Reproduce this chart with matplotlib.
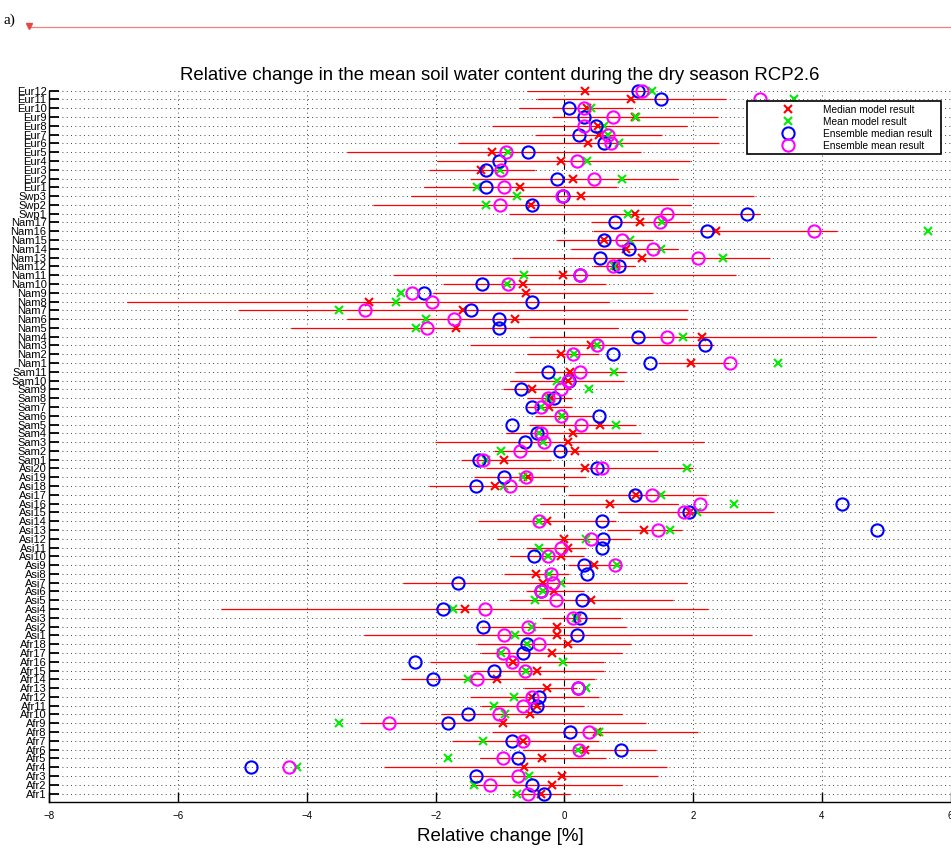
import matplotlib
matplotlib.use("Agg")
import matplotlib.pyplot as plt
from matplotlib.lines import Line2D
import numpy as np

plt.rcParams["font.family"] = ["Liberation Sans", "DejaVu Sans"]
plt.rcParams["lines.scale_dashes"] = False
plt.rcParams["axes.unicode_minus"] = True

# ---------------------------------------------------------------- data
# Regions listed bottom-to-top; for every region: model spread (lo, hi),
# median / mean of the model results and the ensemble median / mean.
regions = ["Afr", "Asi", "Sam", "Nam", "Swp", "Eur"]
region_sizes = [18, 20, 11, 17, 3, 12]

afr_lo = [-0.81, -1.46, -1.44, -2.80, -1.31, -0.65, -1.75, -1.12, -3.17, -1.91, -1.30, -1.47, -0.63, -2.53, -1.44, -2.09, -1.30, -1.36]
afr_hi = [0.09, 0.90, 1.46, 1.60, 0.64, 1.42, 0.54, 2.07, 1.27, 0.89, 0.30, 0.53, 0.20, 0.48, 0.62, 0.61, 0.90, 1.04]
afr_med = [-0.36, -0.20, -0.04, -0.62, -0.34, 0.32, -0.65, 0.50, -0.96, -0.54, -0.42, -0.51, -0.27, -1.04, -0.43, -0.80, -0.20, 0.05]
afr_mean = [-0.73, -1.41, -0.55, -4.15, -1.80, 0.21, -1.26, 0.53, -3.50, -0.93, -1.10, -0.79, 0.33, -1.49, -0.60, -0.02, -0.99, -0.58]
afr_emed = [-0.31, -0.50, -1.37, -4.86, -0.72, 0.88, -0.81, 0.09, -1.80, -1.49, -0.43, -0.39, 0.21, -2.04, -1.10, -2.32, -0.65, -0.58]
afr_emean = [-0.56, -1.15, -0.72, -4.28, -0.96, 0.23, -0.65, 0.38, -2.73, -1.02, -0.65, -0.51, 0.21, -1.36, -0.61, -0.82, -0.96, -0.39]

asi_lo = [-3.12, -1.30, -0.34, -5.34, -0.86, -0.60, -2.50, -0.94, 0.05, -0.84, -0.59, -1.05, 0.66, -1.34, 0.84, -0.38, 0.05, -2.11, -1.41, -1.22]
asi_hi = [2.92, 0.95, 0.88, 2.23, 1.69, 0.31, 1.91, 0.07, 0.88, 0.31, 0.33, 1.04, 1.82, 0.80, 3.26, 1.76, 2.22, 0.05, 0.33, 1.99]
asi_med = [-0.12, -0.11, 0.19, -1.54, 0.42, -0.16, -0.33, -0.44, 0.46, -0.05, 0.06, -0.01, 1.24, -0.27, 1.95, 0.71, 1.12, -1.07, -0.56, 0.32]
asi_mean = [-0.77, -0.50, 0.18, -1.73, -0.45, -0.33, -0.05, -0.24, 0.82, -0.26, -0.40, 0.33, 1.64, -0.39, 2.06, 2.64, 1.50, -0.94, -0.64, 1.90]
asi_emed = [0.20, -1.26, 0.24, -1.89, 0.27, -0.37, -1.65, 0.35, 0.30, -0.47, 0.58, 0.60, 4.85, 0.58, 1.94, 4.31, 1.10, -1.38, -0.94, 0.51]
asi_emean = [-0.94, -0.56, 0.13, -1.24, -0.13, -0.36, -0.17, -0.21, 0.78, -0.26, -0.06, 0.42, 1.46, -0.40, 1.86, 2.10, 1.36, -0.84, -0.59, 0.58]

sam_lo = [-1.61, -1.10, -2.01, -0.90, -0.55, -0.45, -0.58, -0.58, -0.96, -0.84, -0.76]
sam_hi = [-0.21, 1.46, 2.17, 1.19, 1.11, 0.46, 0.12, 0.12, 0.10, 0.93, 0.96]
sam_med = [-0.94, 0.17, 0.06, 0.14, 0.55, -0.03, -0.24, -0.21, -0.50, 0.06, 0.09]
sam_mean = [-1.22, -0.99, -0.33, -0.39, 0.80, -0.03, -0.36, -0.25, 0.38, -0.12, 0.77]
sam_emed = [-1.33, -0.07, -0.61, -0.43, -0.81, 0.54, -0.50, -0.16, -0.68, 0.07, -0.25]
sam_emean = [-1.27, -0.69, -0.31, -0.37, 0.26, -0.05, -0.36, -0.26, -0.05, 0.05, 0.25]

nam_lo = [1.45, -0.58, -1.47, -0.55, -4.24, -3.38, -5.07, -6.79, -2.04, -1.89, -2.66, 0.45, -0.81, 0.11, -0.13, 0.45, 0.41]
nam_hi = [2.56, 0.54, 2.33, 4.84, 0.84, 1.91, 1.92, 0.69, 1.37, 0.64, 2.66, 1.10, 3.19, 1.76, 1.38, 4.23, 1.95]
nam_med = [1.97, -0.05, 0.41, 2.13, -1.68, -0.77, -1.57, -3.03, -0.59, -0.65, -0.02, 0.80, 1.20, 0.95, 0.62, 2.35, 1.18]
nam_mean = [3.32, 0.15, 0.50, 1.84, -2.31, -2.15, -3.50, -2.61, -2.53, -0.89, -0.62, 0.77, 2.47, 1.50, 1.02, 5.64, 1.51]
nam_emed = [1.33, 0.75, 2.18, 1.15, -1.02, -1.01, -1.45, -0.50, -2.18, -1.28, 0.24, 0.85, 0.56, 1.01, 0.61, 2.21, 0.78]
nam_emean = [2.57, 0.13, 0.51, 1.59, -2.13, -1.71, -3.10, -2.05, -2.37, -0.88, 0.25, 0.75, 2.08, 1.38, 0.89, 3.87, 1.48]

swp_lo = [-0.86, -2.97, -2.39]
swp_hi = [3.04, 1.96, 2.94]
swp_med = [1.09, -0.52, 0.26]
swp_mean = [0.99, -1.22, -0.73]
swp_emed = [2.84, -0.51, -0.02]
swp_emean = [1.59, -1.00, -0.03]

eur_lo = [-2.18, -1.47, -2.11, -1.98, -3.37, -1.65, -0.45, -1.13, -0.19, -0.70, -0.42, -0.58]
eur_hi = [0.81, 1.76, -0.45, 1.95, 1.19, 2.40, 1.52, 1.91, 2.38, 1.06, 2.51, 1.30]
eur_med = [-0.69, 0.13, -1.30, -0.05, -1.13, 0.36, 0.54, 0.52, 1.10, 0.35, 1.03, 0.32]
eur_mean = [-1.35, 0.89, -1.00, 0.35, -0.88, 0.85, 0.67, 0.62, 1.11, 0.42, 3.56, 1.36]
eur_emed = [-1.21, -0.11, -1.22, -1.02, -0.56, 0.61, 0.22, 0.49, 0.31, 0.07, 1.50, 1.15]
eur_emean = [-0.94, 0.46, -0.99, 0.19, -0.91, 0.73, 0.67, 0.31, 0.76, 0.31, 3.04, 1.20]

x_ticks = [-8, -6, -4, -2, 0, 2, 4, 6]
title = "Relative change in the mean soil water content during the dry season RCP2.6"
x_label = "Relative change [%]"
legend_labels = ["Median model result", "Mean model result",
                 "Ensemble median result", "Ensemble mean result"]

# ---------------------------------------------------------------- assemble
labels = [f"{r}{k}" for r, n in zip(regions, region_sizes) for k in range(1, n + 1)]
lo = np.array(afr_lo + asi_lo + sam_lo + nam_lo + swp_lo + eur_lo)
hi = np.array(afr_hi + asi_hi + sam_hi + nam_hi + swp_hi + eur_hi)
med = np.array(afr_med + asi_med + sam_med + nam_med + swp_med + eur_med)
mean = np.array(afr_mean + asi_mean + sam_mean + nam_mean + swp_mean + eur_mean)
emed = np.array(afr_emed + asi_emed + sam_emed + nam_emed + swp_emed + eur_emed)
emean = np.array(afr_emean + asi_emean + sam_emean + nam_emean + swp_emean + eur_emean)
ypos = np.arange(1, len(labels) + 1)

# ---------------------------------------------------------------- figure
W, H = 951, 849
fig = plt.figure(figsize=(W / 100, H / 100), dpi=100)
ax = fig.add_axes([49.3 / W, 1 - 802.3 / H, (950.7 - 49.3) / W, (802.3 - 90.7) / H])

# header strip
fig.text(4 / W, 1 - 20 / H, "a)", fontsize=11, family="Liberation Serif",
         ha="left", va="center")
fig.add_artist(Line2D([28 / W, 1.0], [1 - 27 / H, 1 - 27 / H], transform=fig.transFigure,
                      color="#f08080", lw=0.9))
fig.add_artist(Line2D([29 / W], [1 - 25.5 / H], transform=fig.transFigure,
                      marker="v", color="#e8474a", ms=4.5, ls="none"))

# grid and zero reference
ax.set_axisbelow(True)
ax.grid(True, color="k", linestyle=(0, (0.7, 2.4)), linewidth=0.6, alpha=0.85)
ax.axvline(0, color="k", lw=0.8, ls=(0, (4.3, 5.0)), zorder=1.5)

# spread of model results
ax.hlines(ypos, lo, hi, color="red", lw=0.9, zorder=2)

mkw = dict(ls="none", clip_on=False, zorder=3)
ax.plot(med, ypos, marker="x", color="red", ms=6.3, mew=1.5, **mkw)
ax.plot(mean, ypos, marker="x", color="#00ee00", ms=6.3, mew=1.5, **mkw)
ax.plot(emed, ypos, marker="o", mfc="none", mec="blue", ms=8.8, mew=1.5, **mkw)
ax.plot(emean, ypos, marker="o", mfc="none", mec="magenta", ms=8.8, mew=1.5, **mkw)

ax.set_xlim(-8, 6)
ax.set_ylim(0, len(labels))
ax.set_xticks(x_ticks)
ax.set_yticks(ypos)
ax.set_yticklabels(labels)
ax.tick_params(axis="y", direction="in", length=7, width=1.3, pad=2, labelsize=8)
ax.tick_params(axis="x", direction="in", length=7, width=1.0, pad=6, labelsize=7)
for s in ("top", "right"):
    ax.spines[s].set_visible(False)
for s in ("left", "bottom"):
    ax.spines[s].set_linewidth(1.0)

ax.set_xlabel(x_label, fontsize=13.5, labelpad=5)
fig.text(500 / W, 1 - 75 / H, title, fontsize=13.4, ha="center", va="center")

handles = [
    Line2D([], [], marker="x", color="red", ls="none", ms=6.3, mew=1.5),
    Line2D([], [], marker="x", color="#00ee00", ls="none", ms=6.3, mew=1.5),
    Line2D([], [], marker="o", mfc="none", mec="blue", ls="none", ms=8.8, mew=1.5),
    Line2D([], [], marker="o", mfc="none", mec="magenta", ls="none", ms=8.8, mew=1.5),
]
leg = fig.legend(handles, legend_labels, loc="upper left",
                 bbox_to_anchor=(747 / W, 1 - 101 / H, (941 - 747) / W, 0),
                 mode="expand", borderaxespad=0, borderpad=0.35, handlelength=7.4,
                 handletextpad=-0.3, labelspacing=0.2, fontsize=7.3, numpoints=1,
                 fancybox=False, framealpha=1, edgecolor="black")
leg.get_frame().set_linewidth(1.2)

fig.savefig("out.png", dpi=100)
